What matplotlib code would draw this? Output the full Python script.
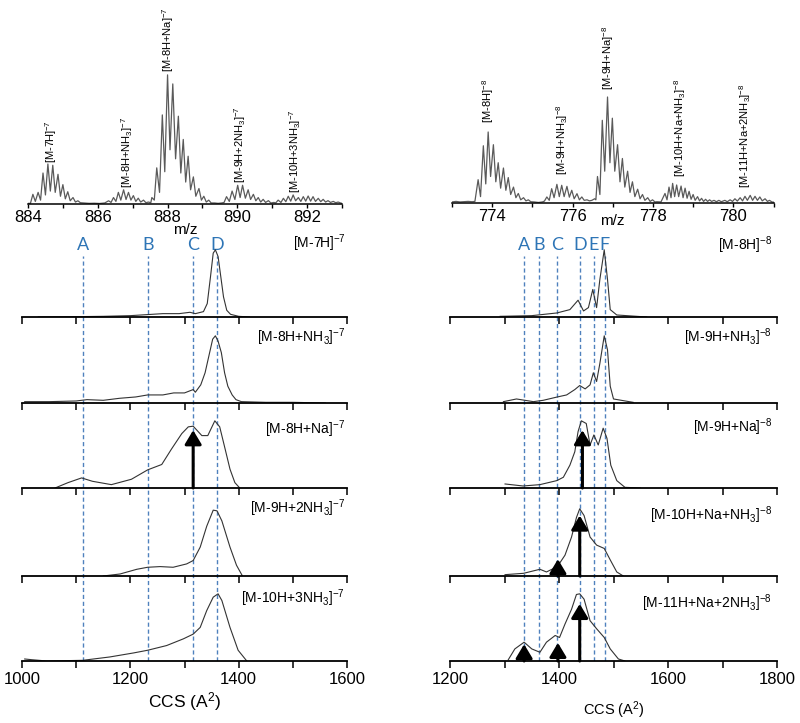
import matplotlib
import numpy as np
from matplotlib import pyplot as plt
from matplotlib.ticker import MultipleLocator

matplotlib.use('Agg')

plt.rcParams['font.family'] = ['Liberation Sans', 'DejaVu Sans']
plt.rcParams['mathtext.default'] = 'regular'

# ---------------- data ----------------
left_names = ['[M-7H]$^{-7}$', '[M-8H+NH$_3$]$^{-7}$', '[M-8H+Na]$^{-7}$',
              '[M-9H+2NH$_3$]$^{-7}$', '[M-10H+3NH$_3$]$^{-7}$']
right_names = ['[M-8H]$^{-8}$', '[M-9H+NH$_3$]$^{-8}$', '[M-9H+Na]$^{-8}$',
               '[M-10H+Na+NH$_3$]$^{-8}$', '[M-11H+Na+2NH$_3$]$^{-8}$']

# mass spectrum, charge 7 (peak tops and valleys)
ms7_mz = [884.0, 884.07, 884.14, 884.21, 884.29, 884.36, 884.43, 884.50, 884.57, 884.64,
          884.71, 884.78, 884.86, 884.93, 885.00, 885.07, 885.14, 885.21, 885.29, 885.36,
          885.43, 885.50, 885.6, 885.75, 885.9, 886.05, 886.2,
          886.31, 886.38, 886.45, 886.52, 886.59, 886.66, 886.74, 886.81, 886.88, 886.95,
          887.02, 887.09, 887.16, 887.23, 887.31, 887.38, 887.45, 887.52,
          887.55, 887.62, 887.69, 887.77, 887.85, 887.92, 888.00, 888.07, 888.15, 888.23,
          888.31, 888.38, 888.45, 888.52, 888.59, 888.66, 888.74, 888.81, 888.90, 888.97,
          889.04, 889.11, 889.18, 889.25, 889.35, 889.45, 889.55, 889.62,
          889.69, 889.77, 889.85, 889.93, 890.01, 890.08, 890.15, 890.23, 890.31, 890.38,
          890.46, 890.53, 890.60, 890.67, 890.74, 890.81, 890.89, 890.96, 891.05, 891.1,
          891.17, 891.25, 891.32, 891.39, 891.46, 891.53, 891.60, 891.67, 891.75, 891.82,
          891.89, 891.96, 892.03, 892.10, 892.17, 892.24, 892.32, 892.39, 892.46, 892.53,
          892.60, 892.67, 892.75, 892.82, 892.89, 892.96, 893.0]
ms7_int = [0.5, 0.5, 7.5, 2, 9, 3, 24, 7, 31, 10,
           30, 9, 23, 6, 15, 4, 9.5, 2.5, 5, 1.5,
           2.5, 1, 0.8, 0.5, 0.6, 0.4, 0.8,
           2.5, 1.2, 5, 2, 9, 3, 11, 3.5, 9, 3,
           6.5, 2, 4.5, 1.5, 3, 1, 1.5, 1,
           5, 3, 28, 9, 69, 25, 100, 42, 93, 35,
           68, 24, 50, 17, 37, 11, 21, 6, 12, 3,
           6, 1.5, 3, 0.8, 0.8, 0.5, 0.8, 1.2,
           5.7, 2, 10, 3.5, 14.5, 5, 14.5, 4.5, 11, 3.5,
           7.5, 2.5, 5, 1.5, 3.6, 1.2, 2.6, 0.8, 1.2, 0.8,
           3, 1.2, 4.4, 1.8, 6, 2.2, 7, 2.5, 5, 2,
           5.7, 2.2, 6.2, 2.2, 5.7, 2, 4.4, 1.8, 3.6, 1.5,
           2.6, 1.2, 2, 1, 1.5, 0.8, 0.5]

# mass spectrum, charge 8
ms8_mz = [773.0, 773.1, 773.2, 773.3, 773.4, 773.5, 773.57,
          773.65, 773.71, 773.78, 773.84, 773.90, 773.96, 774.03, 774.09, 774.15, 774.21,
          774.28, 774.34, 774.40, 774.46, 774.53, 774.59, 774.65, 774.71, 774.78, 774.84,
          774.90, 774.96, 775.05, 775.15, 775.25, 775.3,
          775.36, 775.42, 775.48, 775.54, 775.61, 775.67, 775.73, 775.79, 775.86, 775.92,
          775.98, 776.04, 776.11, 776.17, 776.23, 776.29, 776.36, 776.42, 776.48,
          776.55, 776.58, 776.62, 776.68, 776.74, 776.80, 776.87, 776.93, 776.99, 777.05,
          777.12, 777.18, 777.24, 777.30, 777.37, 777.43, 777.49, 777.55, 777.62, 777.68,
          777.74, 777.80, 777.87, 777.93, 777.99, 778.05, 778.1, 778.2,
          778.30, 778.35, 778.40, 778.45, 778.49, 778.54, 778.59, 778.64, 778.70, 778.75,
          778.80, 778.85, 778.90, 778.95, 779.00, 779.05, 779.11, 779.16, 779.21, 779.26,
          779.31, 779.36, 779.41, 779.46, 779.52, 779.58, 779.64, 779.7,
          779.79, 779.85, 779.92, 779.98, 780.04, 780.10, 780.17, 780.23, 780.29, 780.35,
          780.42, 780.48, 780.54, 780.60, 780.66, 780.72, 780.79, 780.85, 780.90, 780.96,
          781.0]
ms8_int = [1.0, 1.5, 1.0, 1.2, 1.5, 1.2, 1.5,
           22, 6, 54, 18, 67, 25, 55, 20, 38, 14,
           33, 12, 24, 8, 15, 5, 9, 3, 5, 2,
           3, 1.2, 1.0, 0.5, 1.0, 1.8,
           5.7, 2.5, 13.5, 5, 17.6, 6, 16.7, 6, 15.7, 5.5,
           12, 4, 8.8, 3, 5.7, 2.5, 3, 2, 2.5,
           4, 3, 25, 8, 78, 30, 100, 38, 80, 30,
           55, 20, 42, 15, 30, 10, 20, 6, 13, 4,
           8, 2.5, 5, 1.5, 3, 1.0, 1.2, 1.0,
           9, 3, 15, 5, 18.5, 6, 17, 6, 16, 5,
           14, 4.5, 11, 3.5, 8, 2.5, 6, 2, 4.4, 1.5,
           3.5, 1.5, 3, 1.5, 2.5, 1.2, 2.5, 1.2,
           2.5, 1.2, 3, 1.5, 4, 1.8, 5, 2, 6.3, 2.5,
           7.2, 2.5, 6.3, 2.5, 5.7, 2, 4, 1.5, 2.5, 1,
           0.8]

ms7_label_mz = [884.65, 886.83, 888.01, 890.07, 891.65]
ms7_label_y = [31.8, 12.4, 102, 16.3, 8.5]
ms8_label_mz = [773.9, 775.73, 776.89, 778.67, 780.29]
ms8_label_y = [75.5, 26.4, 106.6, 24.5, 14.2]

# CCS distributions, charge 7 (top to bottom)
ccs7_x = [
    [1030, 1100, 1150, 1200, 1240, 1260, 1290, 1310, 1320, 1335, 1342, 1348, 1353, 1357,
     1362, 1367, 1372, 1378, 1385, 1400, 1420],
    [1005, 1050, 1100, 1120, 1150, 1180, 1210, 1232, 1260, 1280, 1300, 1316, 1320, 1330,
     1338, 1345, 1352, 1357, 1362, 1368, 1374, 1380, 1388, 1395, 1405, 1450, 1500, 1560],
    [1061, 1085, 1110, 1130, 1165, 1202, 1232, 1258, 1276, 1295, 1307, 1316, 1332, 1343,
     1356, 1365, 1375, 1384, 1393, 1402],
    [1150, 1181, 1212, 1232, 1255, 1279, 1304, 1316, 1329, 1341, 1353, 1360, 1369, 1384,
     1396, 1407],
    [1005, 1017, 1046, 1112, 1162, 1206, 1232, 1267, 1298, 1316, 1329, 1341, 1353, 1362,
     1369, 1384, 1399, 1415],
]
ccs7_y = [
    [0, 0.005, 0.01, 0.02, 0.04, 0.05, 0.05, 0.07, 0.05, 0.08, 0.2, 0.6, 0.95, 1.0,
     0.9, 0.6, 0.3, 0.1, 0.04, 0.01, 0],
    [0.02, 0.02, 0.03, 0.05, 0.04, 0.07, 0.09, 0.12, 0.12, 0.15, 0.15, 0.2, 0.16, 0.27,
     0.45, 0.7, 0.95, 1.0, 0.92, 0.75, 0.45, 0.25, 0.12, 0.05, 0.02, 0.01, 0.01, 0],
    [0, 0.08, 0.15, 0.1, 0.05, 0.13, 0.27, 0.35, 0.58, 0.81, 0.91, 0.92, 0.78, 0.78,
     1.0, 0.91, 0.58, 0.28, 0.08, 0],
    [0, 0.03, 0.1, 0.13, 0.14, 0.13, 0.18, 0.23, 0.43, 0.74, 0.98, 0.97, 0.82, 0.43,
     0.16, 0],
    [0.03, 0.02, 0.0, 0.01, 0.06, 0.12, 0.16, 0.23, 0.33, 0.40, 0.5, 0.75, 0.95, 1.0,
     0.9, 0.5, 0.16, 0],
]

# CCS distributions, charge 8 (top to bottom)
ccs8_x = [
    [1292, 1350, 1396, 1420, 1435, 1445, 1454, 1462, 1469, 1475, 1483, 1489, 1494, 1506,
     1561],
    [1298, 1322, 1353, 1371, 1397, 1414, 1429, 1438, 1448, 1457, 1463, 1469, 1475, 1483,
     1489, 1494, 1500, 1536],
    [1301, 1334, 1365, 1396, 1408, 1420, 1429, 1435, 1441, 1450, 1457, 1464, 1472, 1481,
     1488, 1495, 1506, 1521, 1549],
    [1301, 1335, 1365, 1377, 1397, 1411, 1423, 1432, 1438, 1446, 1457, 1469, 1483, 1494,
     1506, 1518],
    [1307, 1319, 1336, 1350, 1365, 1377, 1393, 1401, 1411, 1423, 1432, 1438, 1446, 1457,
     1469, 1483, 1494, 1509, 1521],
]
ccs8_y = [
    [0.01, 0.02, 0.06, 0.11, 0.25, 0.09, 0.14, 0.41, 0.14, 0.56, 1.0, 0.56, 0.11, 0.03,
     0],
    [0.02, 0.06, 0.02, 0.04, 0.09, 0.12, 0.2, 0.26, 0.21, 0.27, 0.45, 0.32, 0.59, 1.0,
     0.79, 0.25, 0.06, 0.01],
    [0.06, 0.03, 0.05, 0.11, 0.16, 0.34, 0.54, 0.84, 1.0, 0.96, 0.64, 0.79, 0.64, 0.89,
     0.74, 0.34, 0.11, 0.01, 0],
    [0.02, 0.04, 0.1, 0.06, 0.14, 0.31, 0.58, 0.87, 1.0, 0.9, 0.58, 0.46, 0.41, 0.24,
     0.06, 0],
    [0.02, 0.18, 0.28, 0.18, 0.13, 0.28, 0.38, 0.35, 0.55, 0.77, 0.99, 1.0, 0.92, 0.6,
     0.48, 0.35, 0.18, 0.03, 0],
]

# conformer families
lines7 = [1112, 1232, 1316, 1360]
letters7 = ['A', 'B', 'C', 'D']
lines8 = [1336, 1364, 1397, 1438, 1464, 1484]
letters8 = ['A', 'B', 'C', 'D', 'E', 'F']

# arrows: (panel index from top, CCS, tip height)
arrows7 = [(2, 1316, 0.86)]
arrows8 = [(2, 1443, 0.86), (3, 1398, 0.25), (3, 1438, 0.9),
           (4, 1336, 0.25), (4, 1398, 0.27), (4, 1438, 0.85)]

# ---------------- layout ----------------
W, H = 800, 723
fig = plt.figure(figsize=(8, 7.23), dpi=100)


def px_rect(x0, y0, x1, y1):
    return [x0 / W, 1 - y1 / H, (x1 - x0) / W, (y1 - y0) / H]


def draw_spectrum(rect, mz, inten, xlim, ytop, ticks, names, lab_x, lab_y, pad):
    ax = fig.add_axes(rect)
    ax.plot(mz, inten, color='#5a5a5a', lw=0.9)
    ax.set_xlim(xlim)
    ax.set_ylim(0, ytop)
    for s in ['top', 'left', 'right']:
        ax.spines[s].set_visible(False)
    ax.spines['bottom'].set_linewidth(1.1)
    ax.set_yticks([])
    ax.set_xticks(ticks)
    ax.xaxis.set_minor_locator(MultipleLocator(1))
    ax.tick_params(axis='x', which='both', direction='out', length=3, width=1,
                   labelsize=12, pad=1)
    ax.set_xlabel('m/z', fontsize=11, labelpad=pad)
    for name, x, y in zip(names, lab_x, lab_y):
        ax.text(x, y, name, rotation=90, ha='center', va='bottom', fontsize=8)
    ax.patch.set_alpha(0)


draw_spectrum(px_rect(28, 0, 342, 204), ms7_mz, ms7_int, (884, 893), 158,
              [884, 886, 888, 890, 892], left_names, ms7_label_mz, ms7_label_y, -1)
draw_spectrum(px_rect(452, 0, 773.5, 203), ms8_mz, ms8_int, (773, 781), 191.5,
              [774, 776, 778, 780], right_names, ms8_label_mz, ms8_label_y, -7)

bases = [317, 403, 488, 576, 661]
panel_h = 86


def draw_column(x0, x1, xlim, xs, ys, names, name_x, name_y, arrows, vlines, letters,
                xlab_size, xlab_pad):
    # dashed guide lines and letters sit behind the panels
    ov = fig.add_axes(px_rect(x0, bases[0] - panel_h, x1, bases[4]))
    ov.set_zorder(0)
    ov.set_xlim(xlim)
    ov.set_ylim(0, 1)
    ov.axis('off')
    top = (bases[4] - 256) / (bases[4] - bases[0] + panel_h)
    ytxt = (bases[4] - 245) / (bases[4] - bases[0] + panel_h)
    ov.vlines(vlines, 0, top, colors='#4f81bd', linestyles=(0, (3, 2)), lw=1)
    for x, letter in zip(vlines, letters):
        ov.text(x, ytxt, letter, ha='center', va='center', fontsize=13,
                color='#2e75b6', family=['Lato', 'DejaVu Sans'])

    axes = []
    for i in range(5):
        ax = fig.add_axes(px_rect(x0, bases[i] - panel_h, x1, bases[i]))
        ax.set_zorder(1)
        ax.plot(xs[i], ys[i], color='#333333', lw=0.8)
        ax.set_xlim(xlim)
        ax.set_ylim(0, 1.28)
        for s in ['top', 'left', 'right']:
            ax.spines[s].set_visible(False)
        ax.spines['bottom'].set_linewidth(1.3)
        ax.set_yticks([])
        ax.xaxis.set_major_locator(MultipleLocator(200))
        ax.xaxis.set_minor_locator(MultipleLocator(100))
        ax.tick_params(axis='x', which='both', direction='out', length=5, width=1.1,
                       labelsize=12, pad=3)
        if i < 4:
            ax.tick_params(axis='x', labelbottom=False)
        ax.text(name_x, name_y[i], names[i], transform=ax.transAxes, ha='right',
                va='center', fontsize=10)
        ax.patch.set_alpha(0)
        axes.append(ax)
    for idx, x, tip in arrows:
        axes[idx].annotate('', xy=(x, tip), xytext=(x, 0),
                           arrowprops=dict(arrowstyle='-|>,head_length=0.6,head_width=0.36',
                                           mutation_scale=14, lw=2.2, color='black',
                                           shrinkA=0, shrinkB=0))
    axes[4].set_xlabel('CCS (A$^2$)', fontsize=xlab_size, labelpad=xlab_pad)


draw_column(22, 347, (1000, 1600), ccs7_x, ccs7_y, left_names, 0.995,
            [0.86, 0.76, 0.68, 0.79, 0.73], arrows7, lines7, letters7, 12.5, 2)
draw_column(450, 777, (1200, 1800), ccs8_x, ccs8_y, right_names, 0.985,
            [0.84, 0.76, 0.71, 0.71, 0.67], arrows8, lines8, letters8, 10.5, 9)

fig.savefig('out.png', dpi=100)
